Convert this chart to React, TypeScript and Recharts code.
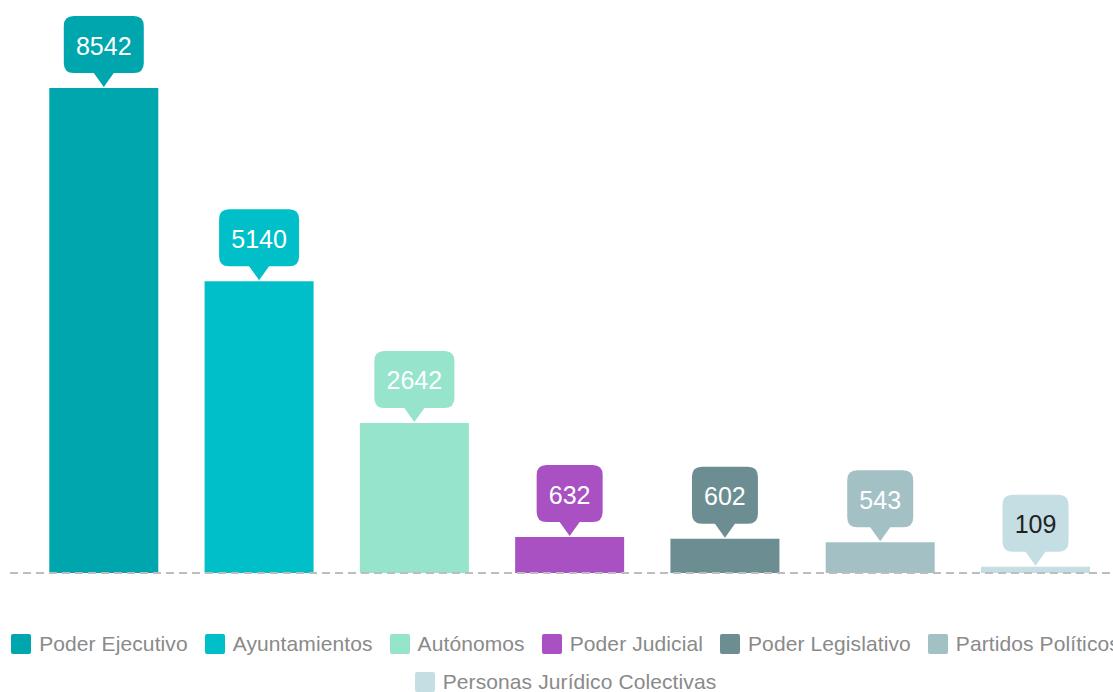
import React from 'react';
import { BarChart, Bar, XAxis, YAxis, Cell, LabelList } from 'recharts';

const categories = [
  'Poder Ejecutivo',
  'Ayuntamientos',
  'Autónomos',
  'Poder Judicial',
  'Poder Legislativo',
  'Partidos Políticos',
  'Personas Jurídico Colectivas',
];
const values = [8542, 5140, 2642, 632, 602, 543, 109];
const colors = ['#00A6AE', '#00BFC9', '#95E4CB', '#A951C3', '#6C8E93', '#A3C1C5', '#C4DEE3'];
const labelColors = ['#fff', '#fff', '#fff', '#fff', '#fff', '#fff', '#222'];

const data = categories.map((name, i) => ({ name, value: values[i] }));

const FONT = '"Liberation Sans", Arial, sans-serif';

const Callout = (props: any) => {
  const { x, y, width, value } = props;
  const i = values.indexOf(Number(value));
  const cx = x + width / 2;
  const tip = y - 1;
  const ptr = 14;
  const pw = 10;
  const h = 57;
  const w = String(value).length * 14 + 24;
  const r = 10;
  const x0 = cx - w / 2;
  const x1 = cx + w / 2;
  const yBot = tip - ptr;
  const yTop = yBot - h;
  const d = `M${x0 + r},${yTop} H${x1 - r} Q${x1},${yTop} ${x1},${yTop + r} V${yBot - r} Q${x1},${yBot} ${x1 - r},${yBot} H${cx + pw} L${cx},${tip} L${cx - pw},${yBot} H${x0 + r} Q${x0},${yBot} ${x0},${yBot - r} V${yTop + r} Q${x0},${yTop} ${x0 + r},${yTop} Z`;
  return (
    <g>
      <path d={d} fill={colors[i]} />
      <text
        x={cx}
        y={(yTop + yBot) / 2 + 1}
        textAnchor="middle"
        dominantBaseline="central"
        fontSize={25}
        fontFamily={FONT}
        fill={labelColors[i]}
      >
        {value}
      </text>
    </g>
  );
};

export default function App() {
  return (
    <div style={{ position: 'absolute', left: 0, top: 0, width: 1113, height: 692, overflow: 'hidden', background: '#fff' }}>
      <BarChart
        width={1113}
        height={600}
        data={data}
        margin={{ top: 62, right: 0, left: 10, bottom: 26 }}
        barCategoryGap="15%"
      >
        <XAxis
          dataKey="name"
          tick={false}
          tickLine={false}
          height={1}
          padding={{ left: 16, right: 0 }}
          axisLine={{ stroke: '#bdbdbd', strokeDasharray: '8 5', strokeWidth: 2 }}
        />
        <YAxis hide domain={[0, 9000]} />
        <Bar dataKey="value" isAnimationActive={false}>
          {data.map((d, i) => (
            <Cell key={d.name} fill={colors[i]} />
          ))}
          <LabelList dataKey="value" content={Callout} />
        </Bar>
      </BarChart>
      <div
        style={{
          position: 'absolute',
          left: 7,
          top: 632,
          width: 1134,
          display: 'flex',
          flexWrap: 'wrap',
          justifyContent: 'center',
          rowGap: 14,
          fontFamily: FONT,
          fontSize: 21,
          letterSpacing: 0.1,
          color: '#8a8a8a',
        }}
      >
        {categories.map((c, i) => (
          <div key={c} style={{ display: 'flex', alignItems: 'center', marginRight: 17, whiteSpace: 'nowrap' }}>
            <span style={{ display: 'inline-block', width: 20, height: 20, borderRadius: 2, background: colors[i], marginRight: 8 }} />
            <span>{c}</span>
          </div>
        ))}
      </div>
    </div>
  );
}
